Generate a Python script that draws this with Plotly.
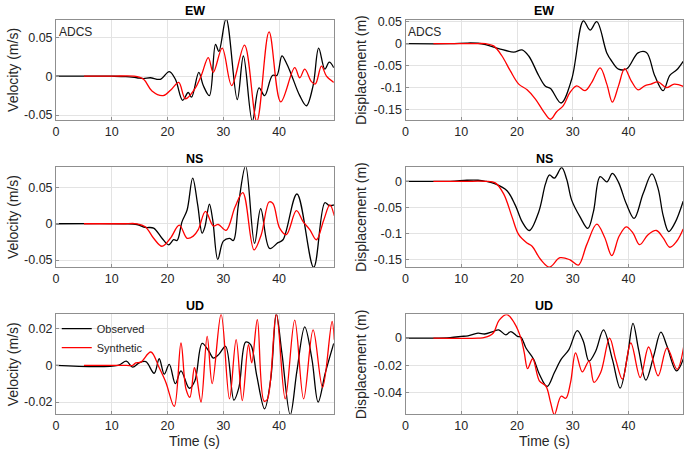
import plotly.graph_objects as go
from plotly.subplots import make_subplots

# ---------------- data ----------------
# EW velocity (m/s)
ew_vel_obs_t = [0, 10, 12.5, 14.5, 15.7, 16.9, 18.7, 20.3, 21.4, 22.7, 23.7, 24.3, 25.6, 26.4, 27.5, 28.6, 29.2, 30.5,
                32.5, 33.6, 35.2, 36.4, 37.4, 38.8, 39.6, 40.5, 41.3, 42.2, 43.7, 44.9, 46.1, 47.1, 48.2, 49.0, 49.8]
ew_vel_obs_v = [0, 0, -0.0005, -0.002, -0.003, -0.002, -0.004, 0.006, -0.004, -0.031, -0.021, -0.027, 0.005, -0.012,
                -0.025, 0.041, 0.032, 0.074, -0.030, 0.026, -0.058, -0.015, -0.025, 0.001, 0.001, 0.026, 0.017, 0.002,
                -0.025, -0.038, -0.012, 0.036, 0.009, 0.018, 0.011]
ew_vel_syn_t = [5, 10, 14.0, 15.7, 17.2, 19.2, 20.8, 22.0, 23.2, 24.9, 26.1, 27.3, 28.2, 29.8, 31.5, 33.8, 36.0, 38.2,
                40.3, 42.8, 43.7, 44.6, 45.8, 46.5, 47.6, 48.5, 49.8]
ew_vel_syn_v = [0, 0, 0, -0.004, -0.019, -0.025, -0.016, -0.008, -0.029, -0.016, 0.002, 0.024, 0.005, 0.036, -0.012,
                0.040, -0.058, 0.057, -0.033, 0.011, -0.002, 0.009, -0.007, -0.010, 0.013, 0.0, -0.008]

# EW displacement (m)
ew_dis_obs_t = [0, 8, 11, 13, 14.35, 16.7, 19.4, 20.9, 22.1, 23.9, 25.1, 26.0, 27.9, 29.8, 31.9, 33.1, 34.3, 36.1,
                37.0, 38.2, 39.7, 41.7, 43.2, 44.7, 46.2, 47.4, 48.6, 49.8]
ew_dis_obs_v = [0, 0, 0.0015, 0.001, -0.002, -0.011, -0.019, -0.014, -0.028, -0.073, -0.097, -0.102, -0.135, -0.081,
                0.052, 0.031, 0.050, -0.021, -0.040, -0.058, -0.057, -0.021, -0.020, -0.073, -0.107, -0.072, -0.060,
                -0.040]
ew_dis_syn_t = [5, 12, 14.35, 15.8, 17.3, 18.8, 20.3, 21.8, 23.3, 24.8, 26.0, 27.1, 28.3, 29.5, 30.7, 32.2, 33.4,
                34.9, 36.1, 37.1, 38.2, 39.3, 40.5, 41.7, 42.9, 44.0, 45.3, 46.8, 48.2, 49.8]
ew_dis_syn_v = [0, 0, 0, -0.005, -0.028, -0.062, -0.092, -0.105, -0.126, -0.155, -0.172, -0.155, -0.141, -0.111,
                -0.096, -0.107, -0.088, -0.055, -0.092, -0.133, -0.096, -0.057, -0.085, -0.105, -0.096, -0.092,
                -0.087, -0.100, -0.092, -0.097]

# NS velocity (m/s)
ns_vel_obs_t = [0, 12, 14.5, 16.0, 17.5, 19.0, 20.2, 21.1, 21.7, 22.6, 23.5, 24.5, 25.4, 26.2, 26.7, 27.5, 28.1, 29.0,
                30.0, 31.1, 31.8, 32.7, 34.0, 35.6, 36.7, 38.3, 39.8, 40.7, 43.2, 46.2, 48.2, 49.0, 49.9]
ns_vel_obs_v = [0, 0, -0.001, -0.005, -0.006, -0.020, -0.029, -0.022, -0.023, 0.003, 0.019, 0.063, 0.026, -0.013,
                -0.004, 0.027, 0.005, -0.049, -0.024, -0.020, -0.023, 0.026, 0.080, -0.027, 0.021, -0.034, -0.026,
                -0.022, 0.041, -0.060, 0.029, 0.025, 0.026]
ns_vel_syn_t = [5, 12, 14.5, 16.0, 17.5, 19.0, 20.5, 22.1, 23.5, 24.6, 25.5, 26.8, 28.2, 29.1, 30.5, 32.1, 33.5, 35.5,
                36.8, 38.2, 38.9, 40.1, 41.3, 43.1, 44.3, 45.5, 46.7, 48.0, 49.1, 49.9]
ns_vel_syn_v = [0, 0, 0, -0.004, -0.020, -0.031, -0.020, -0.002, -0.020, -0.017, -0.008, 0.017, -0.003, -0.001,
                -0.009, 0.023, 0.043, -0.036, -0.015, 0.030, 0.028, -0.006, -0.015, 0.018, 0.003, -0.008, -0.022,
                0.005, 0.026, 0.011]

# NS displacement (m)
ns_dis_obs_t = [0, 8, 11, 13, 14.35, 16.1, 18.2, 19.7, 20.9, 22.2, 23.9, 25.1, 25.8, 26.7, 28.0, 28.9, 29.8, 31.3,
                32.7, 33.7, 34.9, 36.1, 37.1, 38.2, 39.6, 41.0, 42.6, 44.2, 45.3, 46.2, 47.2, 48.3, 49.8]
ns_dis_obs_v = [0, 0, 0.002, 0.002, 0, -0.005, -0.018, -0.046, -0.077, -0.094, -0.058, -0.005, 0.012, 0.006, 0.026,
                0.004, -0.036, -0.068, -0.090, -0.058, 0.009, -0.001, 0.015, -0.002, -0.043, -0.071, -0.024, 0.014,
                -0.014, -0.065, -0.096, -0.080, -0.038]
ns_dis_syn_t = [5, 12, 14.35, 16.1, 17.6, 19.1, 20.3, 21.8, 22.7, 24.2, 25.8, 27.7, 29.5, 31.0, 32.5, 34.3, 35.7,
                37.0, 38.3, 39.6, 40.8, 42.0, 43.5, 45.0, 46.2, 47.4, 48.6, 49.8]
ns_dis_syn_v = [0, 0, 0, -0.003, -0.024, -0.068, -0.102, -0.118, -0.124, -0.149, -0.164, -0.146, -0.150, -0.160,
                -0.121, -0.082, -0.107, -0.142, -0.105, -0.087, -0.099, -0.121, -0.102, -0.094, -0.108, -0.126,
                -0.115, -0.091]

# UD velocity (m/s)
ud_vel_obs_t = [0, 11.1, 12.6, 13.75, 14.9, 16.1, 17.6, 18.5, 19.4, 20.3, 21.4, 22.4, 23.9, 24.9, 26.2, 27.4, 28.2,
                29.2, 30.4, 31.9, 32.8, 34.0, 34.9, 36.0, 37.4, 38.5, 39.5, 40.5, 42.0, 43.2, 44.6, 45.9, 47.0, 48.3,
                49.8]
ud_vel_obs_v = [0, 0, 0.0023, -0.001, 0.0014, 0.002, -0.0043, 0.0036, -0.0048, 0.0005, -0.010, -0.003, -0.0125,
                -0.0084, 0.012, 0.0077, 0.004, 0.006, 0.0104, -0.019, -0.012, 0.0127, 0.0113, -0.0057, -0.0237,
                -0.0075, 0.0280, 0.0068, -0.0270, -0.003, 0.021, 0.0032, -0.020, -0.004, 0.012]
ud_vel_syn_t = [5, 12.6, 13.75, 14.3, 15.2, 17.0, 18.5, 19.7, 21.2, 22.4, 23.3, 24.0, 24.8, 25.2, 26.0, 27.1, 28.0,
                29.6, 31.1, 32.3, 33.4, 34.5, 35.1, 36.1, 37.3, 37.9, 39.5, 41.1, 42.8, 44.4, 46.1, 47.8, 49.5, 49.9]
ud_vel_syn_v = [0, 0, 0, 0.0014, 0.0018, 0.0073, -0.0013, -0.0093, -0.0224, 0.0122, -0.0129, -0.0174, -0.0013,
                -0.0057, -0.020, 0.0158, -0.010, 0.0280, -0.0183, 0.014, -0.0192, 0.0113, 0.0014, 0.0250, -0.0195,
                -0.0185, 0.0285, -0.0183, 0.0247, -0.0183, 0.0194, -0.012, 0.0240, 0.014]

# UD displacement (m)
ud_dis_obs_t = [0, 5, 8, 10.0, 11.2, 13.0, 14.2, 15.7, 16.7, 18.0, 18.9, 20.1, 20.7, 21.6, 23.0, 24.0, 25.4, 26.7,
                27.9, 29.3, 30.8, 31.9, 32.9, 34.1, 35.5, 37.1, 38.5, 39.8, 40.8, 41.8, 43.1, 44.5, 45.8, 46.9, 48.6,
                50.0]
ud_dis_obs_v = [0, 0, 0.0004, 0.0012, 0.0017, 0.0036, 0.003, 0.0048, 0.006, 0.0024, 0.0048, 0.0012, 0.0007, -0.0072,
                -0.0156, -0.0264, -0.0353, -0.0252, -0.0156, -0.0084, 0.0055, -0.0024, -0.0168, -0.0096, 0.006,
                -0.0156, -0.0365, -0.0132, 0.0108, -0.0084, -0.0307, -0.0132, 0.0043, -0.006, -0.024, -0.0132]
ud_dis_syn_t = [5, 13.0, 14.2, 15.7, 16.8, 18.2, 19.5, 20.7, 21.3, 21.9, 22.8, 24.0, 25.2, 26.0, 26.7, 27.9, 28.75,
                29.6, 30.5, 31.7, 32.9, 33.8, 35.0, 36.6, 37.7, 38.9, 40.4, 42.1, 43.6, 45.3, 46.9, 48.7, 50.0]
ud_dis_syn_v = [0, 0, 0.0005, 0.0036, 0.0132, 0.0172, 0.0112, 0, -0.0108, -0.0223, -0.0151, -0.0312, -0.0353,
                -0.0468, -0.0560, -0.0425, -0.044, -0.0324, -0.0108, -0.0247, -0.0168, -0.0324, -0.0252, 0, -0.0156,
                -0.030, -0.0036, -0.0288, -0.0065, -0.0276, -0.0072, -0.0228, -0.0036]

titles = ["EW", "EW", "NS", "NS", "UD", "UD"]
y_labels = ["Velocity (m/s)", "Displacement (m)"]
x_label = "Time (s)"
x_ticks = [0, 10, 20, 30, 40]
y_ticks = [
    [-0.05, 0, 0.05],
    [-0.15, -0.1, -0.05, 0, 0.05],
    [-0.05, 0, 0.05],
    [-0.15, -0.1, -0.05, 0],
    [-0.02, 0, 0.02],
    [-0.04, -0.02, 0],
]
y_tick_text = [
    ["-0.05", "0", "0.05"],
    ["-0.15", "-0.1", "-0.05", "0", "0.05"],
    ["-0.05", "0", "0.05"],
    ["-0.15", "-0.1", "-0.05", "0"],
    ["-0.02", "0", "0.02"],
    ["-0.04", "-0.02", "0"],
]
y_ranges = [
    [-0.0562, 0.0722],
    [-0.1735, 0.0538],
    [-0.0594, 0.0780],
    [-0.1635, 0.0270],
    [-0.0267, 0.0278],
    [-0.0557, 0.0173],
]

panels = [
    (ew_vel_obs_t, ew_vel_obs_v, ew_vel_syn_t, ew_vel_syn_v),
    (ew_dis_obs_t, ew_dis_obs_v, ew_dis_syn_t, ew_dis_syn_v),
    (ns_vel_obs_t, ns_vel_obs_v, ns_vel_syn_t, ns_vel_syn_v),
    (ns_dis_obs_t, ns_dis_obs_v, ns_dis_syn_t, ns_dis_syn_v),
    (ud_vel_obs_t, ud_vel_obs_v, ud_vel_syn_t, ud_vel_syn_v),
    (ud_dis_obs_t, ud_dis_obs_v, ud_dis_syn_t, ud_dis_syn_v),
]

# ---------------- figure ----------------
W, H = 685, 453
FONT = "Liberation Sans, Arial, Helvetica, sans-serif"
fig = make_subplots(rows=3, cols=2)

x_doms = [[53.3 / W, 332.3 / W], [404.3 / W, 683.3 / W]]
row_px = [(15.3, 116.7), (164.7, 266.0), (314.3, 415.7)]
y_doms = [[1 - b / H, 1 - t / H] for t, b in row_px]

for i, (ot, ov, st, sv) in enumerate(panels):
    r, c = i // 2 + 1, i % 2 + 1
    fig.add_trace(go.Scatter(x=ot, y=ov, mode="lines", name="Observed",
                             line=dict(color="#000000", width=1.3, shape="spline", smoothing=1.0),
                             showlegend=(i == 4), legendrank=1), row=r, col=c)
    fig.add_trace(go.Scatter(x=st, y=sv, mode="lines", name="Synthetic",
                             line=dict(color="#ff0000", width=1.3, shape="spline", smoothing=1.0),
                             showlegend=(i == 4), legendrank=2), row=r, col=c)

axis_common = dict(showline=True, linecolor="#8f8f8f", linewidth=1, mirror=True,
                   showgrid=True, gridcolor="#e3e3e3", gridwidth=1, zeroline=False,
                   ticks="inside", ticklen=3, tickcolor="#8f8f8f",
                   tickfont=dict(family=FONT, size=12.5, color="#262626"))

for i in range(6):
    r, c = i // 2, i % 2
    n = "" if i == 0 else str(i + 1)
    fig.layout["xaxis" + n].update(domain=x_doms[c], range=[0, 49.82], tickvals=x_ticks,
                                   ticktext=[str(v) for v in x_ticks], **axis_common)
    fig.layout["yaxis" + n].update(domain=y_doms[r], range=y_ranges[i], tickvals=y_ticks[i],
                                   ticktext=y_tick_text[i], **axis_common)

annotations = []
# panel titles
for i in range(6):
    r, c = i // 2, i % 2
    annotations.append(dict(text="<b>" + titles[i] + "</b>", x=(x_doms[c][0] + x_doms[c][1]) / 2,
                            y=1 - (6 + 150 * r) / H, xref="paper", yref="paper",
                            showarrow=False, xanchor="center", yanchor="middle",
                            font=dict(family=FONT, size=12.5, color="#000000")))
# y labels
for r in range(3):
    for c in range(2):
        annotations.append(dict(text=y_labels[c], x=(10 if c == 0 else 359.5) / W,
                                y=(y_doms[r][0] + y_doms[r][1]) / 2, xref="paper", yref="paper",
                                textangle=-90, showarrow=False, xanchor="center", yanchor="middle",
                                font=dict(family=FONT, size=14, color="#262626")))
# x labels
for c in range(2):
    annotations.append(dict(text=x_label, x=(x_doms[c][0] + x_doms[c][1]) / 2, y=1 - 443 / H,
                            xref="paper", yref="paper", showarrow=False, xanchor="center",
                            yanchor="middle", font=dict(family=FONT, size=14, color="#262626")))
# station name
for n in ["", "2"]:
    annotations.append(dict(text="ADCS", x=0.003, y=1 - (27.5 - 15.3) / (116.7 - 15.3),
                            xref="x" + n + " domain", yref="y" + n + " domain", showarrow=False,
                            xanchor="left", yanchor="middle",
                            font=dict(family=FONT, size=12, color="#262626")))

fig.update_layout(
    width=W, height=H, margin=dict(l=0, r=0, t=0, b=0),
    paper_bgcolor="white", plot_bgcolor="white",
    annotations=annotations,
    showlegend=True,
    legend=dict(x=54 / W, y=1 - 314 / H, xanchor="left", yanchor="top",
                bgcolor="rgba(0,0,0,0)", borderwidth=0,
                font=dict(family=FONT, size=11, color="#262626"),
                tracegroupgap=0),
)

fig.write_html("out.html", config={"displayModeBar": False},
               post_script="document.body.style.margin='0';document.body.style.padding='0';"
                           "document.body.style.overflow='hidden';")
